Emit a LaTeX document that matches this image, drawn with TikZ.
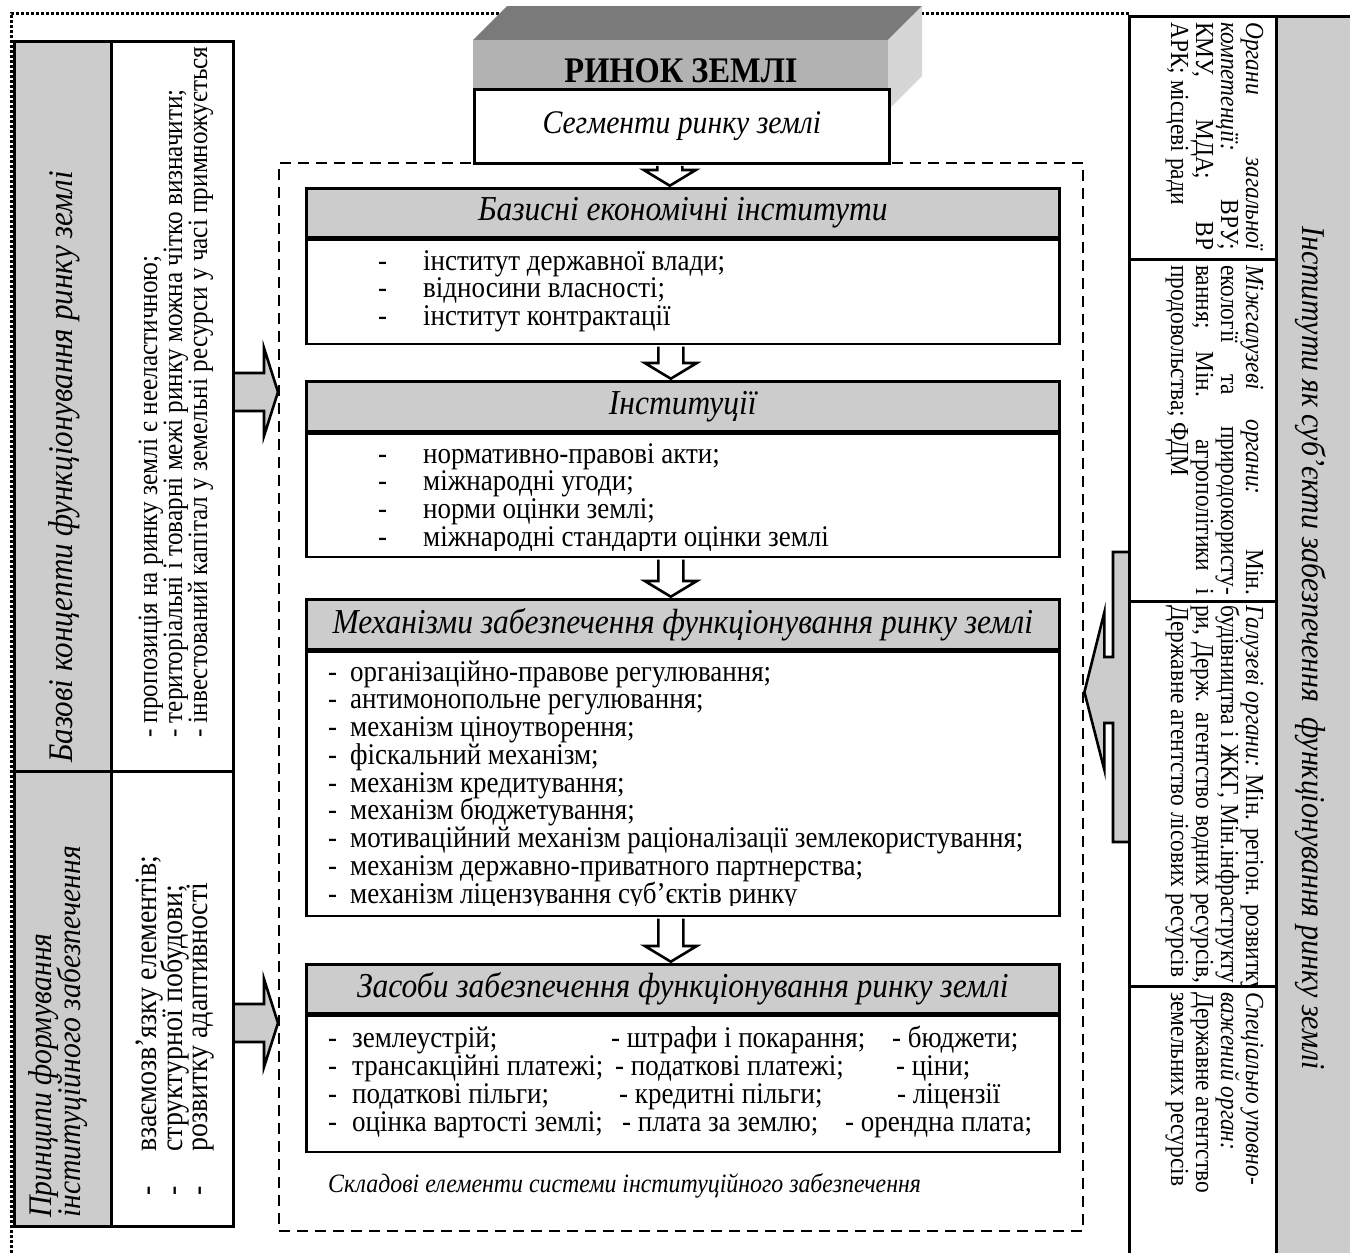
\documentclass[tikz,border=0pt]{standalone}
\usepackage{fontspec}
\setmainfont{Liberation Serif}[FakeStretch=0.9]
\usetikzlibrary{calc}
\definecolor{lgray}{gray}{0.8}
\definecolor{fgray}{gray}{0.7}
\definecolor{dgray}{gray}{0.48}
\definecolor{sgray}{gray}{0.84}
\newcommand\fsz[2]{\fontsize{#1}{#2}\selectfont}
\newcommand\downarr[2]{%
  \draw[warrow] let \p1=(#1.south), \p2=(#2.north) in
   ({\x1-24.5pt},{\y1-1.3pt}) -- ({\x1-24.5pt},{\y2+17pt}) -- ({\x1-38pt},{\y2+17pt}) --
   ({\x1-12pt},{\y2+1.3pt}) -- ({\x1+14pt},{\y2+17pt}) -- ({\x1+0.5pt},{\y2+17pt}) -- ({\x1+0.5pt},{\y1-1.3pt});}
\newcommand\rightarr[2]{%
  \draw[garrow] let \p1=(#1), \p2=(#2) in
   (\x1,{\y1+19pt}) -- ({\x2-14pt},{\y1+19pt}) -- ({\x2-14pt},{\y1+44pt}) -- (\x2,\y1) --
   ({\x2-14pt},{\y1-44pt}) -- ({\x2-14pt},{\y1-19pt}) -- (\x1,{\y1-19pt});}
\begin{document}
\begin{tikzpicture}[x=1pt,y=-1pt,line join=miter,
  thk/.style={line width=2.6pt},
  boxn/.style={draw,thk,anchor=north west,inner sep=0pt},
  hdr/.style={boxn,fill=lgray,minimum width=753pt,font=\fsz{35}{35}\itshape},
  bodyb/.style={boxn,fill=white,minimum width=753pt},
  itm/.style={anchor=base west,inner sep=0pt,font=\fsz{30}{30}},
  litm/.style={anchor=base west,inner sep=0pt,rotate=90,font=\fsz{28}{28}},
  litmb/.style={anchor=base west,inner sep=0pt,rotate=90,font=\fsz{31}{31}},
  ritm/.style={anchor=base west,inner sep=0pt,rotate=-90,font=\fsz{26}{26}},
  warrow/.style={draw,thk,fill=white},
  garrow/.style={draw,thk,fill=lgray},
  dotln/.style={line width=3pt,dash pattern=on 3pt off 2pt}]
\useasboundingbox (0,0) rectangle (1350,1253);
% outer dotted frame
\draw[dotln] (11,1253) -- (11,13) -- (1130,13);
% 3D box
\fill[dgray] (473,40) -- (507,6) -- (922,6) -- (888,40) -- cycle;
\fill[sgray] (888,40) -- (922,6) -- (922,76) -- (888,110) -- cycle;
\fill[fgray] (473,40) rectangle (888,89);
\node[font=\fsz{36}{36}\bfseries,inner sep=0pt] (rz) at (681,71) {РИНОК ЗЕМЛІ};
% dashed container
\node[boxn,line width=2.4pt,dash pattern=on 11pt off 7pt,minimum width=804pt,minimum height=1068pt] (core) at (278,162) {};
\node[boxn,fill=white,minimum width=415pt,minimum height=74pt,font=\fsz{33}{33}\itshape] (seg) at (473,88) {Сегменти ринку землі};
% central boxes
\node[hdr,minimum height=49pt] (h1) at (305,187) {Базисні економічні інститути};
\node[bodyb,minimum height=104pt] (b1) at (h1.south west) {};
\node[hdr,minimum height=50pt] (h2) at (305,380) {Інституції};
\node[bodyb,minimum height=123pt] (b2) at (h2.south west) {};
\node[hdr,minimum height=50pt] (h3) at (305,598) {Механізми забезпечення функціонування ринку землі};
\node[bodyb,minimum height=264pt] (b3) at (h3.south west) {};
\node[hdr,minimum height=49pt] (h4) at (305,963) {Засоби забезпечення функціонування ринку землі};
\node[bodyb,minimum height=136pt] (b4) at (h4.south west) {};
% arrows
\downarr{seg}{h1}
\downarr{b1}{h2}
\downarr{b2}{h3}
\downarr{b3}{h4}
% box texts
\foreach \t [count=\i] in {інститут державної влади;,відносини власності;,інститут контрактації}{
  \node[itm] (b1d\i) at (378,{270+(\i-1)*27.6}) {-};
  \node[itm] (b1t\i) at (423,{270+(\i-1)*27.6}) {\t};}
\begin{scope}
\clip (b2.north west) rectangle ($(b2.south east)+(0,-8)$);
\foreach \t [count=\i] in {нормативно-правові акти;,міжнародні угоди;,норми оцінки землі;,міжнародні стандарти оцінки землі}{
  \node[itm] (b2d\i) at (378,{463+(\i-1)*27.8}) {-};
  \node[itm] (b2t\i) at (423,{463+(\i-1)*27.8}) {\t};}
\end{scope}
\begin{scope}
\clip (b3.north west) rectangle ($(b3.south east)+(0,-12)$);
\foreach \t [count=\i] in {організаційно-правове регулювання;,антимонопольне регулювання;,механізм ціноутворення;,фіскальний механізм;,механізм кредитування;,механізм бюджетування;,мотиваційний механізм раціоналізації землекористування;,механізм державно-приватного партнерства;,механізм ліцензування суб’єктів ринку}{
  \node[itm] (b3d\i) at (328,{681+(\i-1)*27.75}) {-};
  \node[itm] (b3t\i) at (350,{681+(\i-1)*27.75}) {\t};}
\end{scope}
\foreach \a [count=\i] in {землеустрій;,трансакційні платежі;,податкові пільги;,оцінка вартості землі;}{
  \node[itm] (b4d\i) at (328,{1047+(\i-1)*28}) {-};
  \node[itm] (b4a\i) at (352,{1047+(\i-1)*28}) {\a};}
\node[itm] (b4b1) at (611,1047) {- штрафи і покарання;};
\node[itm] (b4b2) at (615,1075) {- податкові платежі;};
\node[itm] (b4b3) at (619,1103) {- кредитні пільги;};
\node[itm] (b4b4) at (622,1131) {- плата за землю;};
\node[itm] (b4c1) at (892,1047) {- бюджети;};
\node[itm] (b4c2) at (896,1075) {- ціни;};
\node[itm] (b4c3) at (897,1103) {- ліцензії};
\node[itm] (b4c4) at (845,1131) {- орендна плата;};
\node[anchor=base west,inner sep=0pt,font=\fsz{26.5}{26.5}\itshape] (cap) at (328,1192) {Складові елементи системи інституційного забезпечення};
% left column
\coordinate (la1) at (232,392); \coordinate (la2) at (232,1023);
\rightarr{la1}{core.west|-la1}
\rightarr{la2}{core.west|-la2}
\node[boxn,fill=lgray,minimum width=97pt,minimum height=730pt] (lt1) at (13,40) {};
\node[boxn,fill=white,minimum width=122pt,minimum height=730pt] (ll1) at (110,40) {};
\node[boxn,fill=lgray,minimum width=97pt,minimum height=455pt] (lt2) at (13,770) {};
\node[boxn,fill=white,minimum width=122pt,minimum height=455pt] (ll2) at (110,770) {};
\node[anchor=base,inner sep=0pt,rotate=90,font=\fsz{34.5}{34.5}\itshape] (lt1t) at (72,467) {Базові концепти функціонування ринку землі};
\node[anchor=base west,inner sep=0pt,rotate=90,font=\fsz{33}{33}\itshape] (lt2a) at (51,1218) {Принципи формування};
\node[anchor=base west,inner sep=0pt,rotate=90,font=\fsz{33}{33}\itshape] (lt2b) at (80,1218) {інституційного забезпечення};
\begin{scope}
\clip (ll1.north west) rectangle (ll1.south east);
\node[litm] (l1a) at (157,738) {- пропозиція на ринку землі є нееластичною;};
\node[litm] (l1b) at (182,738) {- територіальні і товарні межі ринку можна чітко визначити;};
\node[litm] (l1c) at (207,738) {- інвестований капітал у земельні ресурси у часі примножується};
\end{scope}
\foreach \t/\x [count=\i] in {взаємозв’язку елементів;/156,структурної побудови;/182,розвитку адаптивності/207}{
  \node[litmb] (l2d\i) at (\x,1196) {-};
  \node[litmb] (l2t\i) at (\x,1152) {\t};}
% right column
\coordinate (rab) at (1128,692);
\draw[garrow] let \p1=(rab), \p2=(core.east|-rab) in
  (\x1,{\y1+140pt}) -- ({\x1-15pt},{\y1+140pt}) -- ({\x1-15pt},{\y1+35pt}) -- ({\x2+20pt},{\y1+35pt}) --
  ({\x2+20pt},{\y1+80pt}) -- (\x2,\y1) -- ({\x2+20pt},{\y1-78pt}) -- ({\x2+20pt},{\y1-31pt}) --
  ({\x1-15pt},{\y1-31pt}) -- ({\x1-15pt},{\y1-150pt}) -- (\x1,{\y1-150pt});
\node[boxn,fill=white,minimum width=147pt,minimum height=243pt] (c1) at (1128,15) {};
\node[boxn,fill=white,minimum width=147pt,minimum height=342pt] (c2) at (1128,258) {};
\node[boxn,fill=white,minimum width=147pt,minimum height=385pt] (c3) at (1128,600) {};
\node[boxn,fill=white,minimum width=147pt,minimum height=280pt] (c4) at (1128,985) {};
\node[boxn,fill=lgray,minimum width=85pt,minimum height=1260pt] (rs) at (1275,15) {};
\node[anchor=base,inner sep=0pt,rotate=-90,font=\fsz{33.3}{33.3}\itshape] (rst) at (1302,648) {Інститути як суб’єкти забезпечення\ \ функціонування ринку землі};
% cell 1
\node[ritm] (c1a) at (1246,22) {\makebox[228pt][s]{\itshape Органи загальної}};
\node[ritm] (c1b) at (1221,22) {\makebox[228pt][s]{\itshape компетенції: \upshape ВРУ;}};
\node[ritm] (c1c) at (1196,22) {\makebox[228pt][s]{КМУ, МДА; ВР}};
\node[ritm] (c1d) at (1171,22) {АРК; місцеві ради};
% cell 2
\node[ritm] (c2a) at (1246,265) {\makebox[330pt][s]{\itshape Міжгалузеві органи: \upshape Мін.}};
\node[ritm] (c2b) at (1221,265) {\makebox[330pt][s]{екології та природокористу-}};
\node[ritm] (c2c) at (1196,265) {\makebox[330pt][s]{вання; Мін. агрополітики і}};
\node[ritm] (c2d) at (1171,265) {продовольства; ФДМ};
% cell 3
\begin{scope}
\clip (c3.north west) rectangle (c3.south east);
\node[ritm] (c3a) at (1246,605) {\itshape Галузеві органи: \upshape Мін. регіон. розвитку,};
\node[ritm] (c3b) at (1221,605) {\makebox[378pt][s]{будівництва і ЖКГ, Мін.інфраструкту}};
\node[ritm] (c3c) at (1196,605) {\makebox[378pt][s]{ри, Держ. агентство водних ресурсів,}};
\node[ritm] (c3d) at (1171,605) {Державне агентство лісових ресурсів};
\end{scope}
% cell 4
\node[ritm] (c4a) at (1246,992) {\itshape Спеціально уповно-};
\node[ritm] (c4b) at (1221,992) {\itshape важений орган:};
\node[ritm] (c4c) at (1196,992) {Державне агентство};
\node[ritm] (c4d) at (1171,992) {земельних ресурсів};
\end{tikzpicture}
\end{document}
